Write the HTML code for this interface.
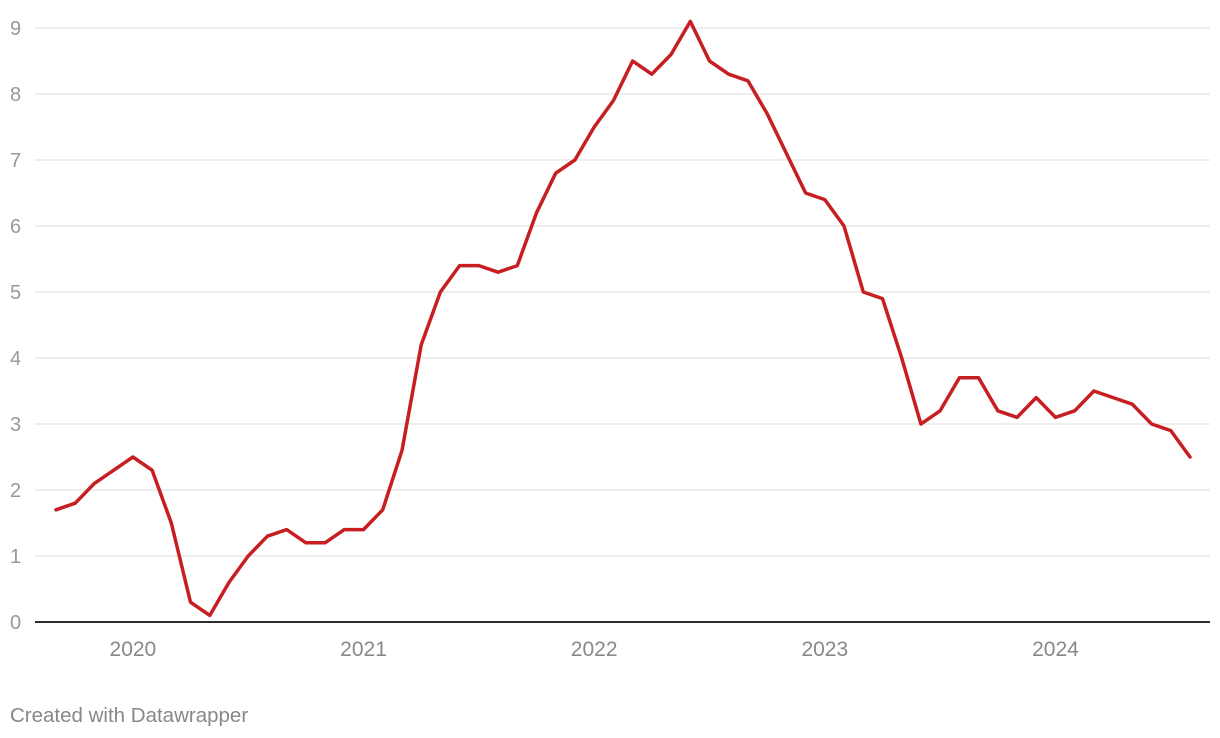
<!DOCTYPE html>
<html><head><meta charset="utf-8"><style>
html,body{margin:0;padding:0;background:#fff;width:1220px;height:738px;overflow:hidden}
svg text{font-family:"Liberation Sans",Arial,sans-serif}
</style></head><body>
<svg id="chart" width="1220" height="738" xmlns="http://www.w3.org/2000/svg">
<g id="grid"></g>
<g id="ylabels"></g>
<g id="xlabels"></g>
<path id="line" fill="none" stroke="#c71e22" stroke-width="3.5" stroke-linejoin="round" stroke-linecap="round"/>
<text x="10" y="722" font-size="20.5" fill="#888">Created with Datawrapper</text>
</svg>
<script>
const values = [1.7,1.8,2.1,2.3,2.5,2.3,1.5,0.3,0.1,0.6,1.0,1.3,1.4,1.2,1.2,1.4,1.4,1.7,2.6,4.2,5.0,5.4,5.4,5.3,5.4,6.2,6.8,7.0,7.5,7.9,8.5,8.3,8.6,9.1,8.5,8.3,8.2,7.7,7.1,6.5,6.4,6.0,5.0,4.9,4.0,3.0,3.2,3.7,3.7,3.2,3.1,3.4,3.1,3.2,3.5,3.4,3.3,3.0,2.9,2.5];
const yTicks = [0,1,2,3,4,5,6,7,8,9];
const xTickLabels = ["2020","2021","2022","2023","2024"];
const xTickIndex = [4,16,28,40,52];
const ns="http://www.w3.org/2000/svg";
const x = i => 56 + i*(1190-56)/59;
const y = v => 622 - v*66;
const grid=document.getElementById('grid'), yl=document.getElementById('ylabels'), xl=document.getElementById('xlabels');
yTicks.forEach(t=>{
  const l=document.createElementNS(ns,'line');
  
  
  l.setAttribute('x1',35);l.setAttribute('x2',1210);
  l.setAttribute('y1',y(t));l.setAttribute('y2',y(t));
  l.setAttribute('stroke',t===0?'#111':'#dcdcdc');l.setAttribute('stroke-width',t===0?1.8:1);
  grid.appendChild(l);
  const tx=document.createElementNS(ns,'text');
  
  
  tx.setAttribute('x',10);tx.setAttribute('y',y(t)+7);
  tx.setAttribute('font-size',20);tx.setAttribute('fill','#999');
  tx.textContent=t;yl.appendChild(tx);
});
xTickLabels.forEach((lab,k)=>{
  const tx=document.createElementNS(ns,'text');
  
  
  tx.setAttribute('x',x(xTickIndex[k]));tx.setAttribute('y',656);
  tx.setAttribute('font-size',21);tx.setAttribute('fill','#888');tx.setAttribute('text-anchor','middle');
  tx.textContent=lab;xl.appendChild(tx);
});
document.getElementById('line').setAttribute('d',values.map((v,i)=>(i?'L':'M')+x(i).toFixed(1)+','+y(v).toFixed(1)).join(''));
</script>
</body></html>
